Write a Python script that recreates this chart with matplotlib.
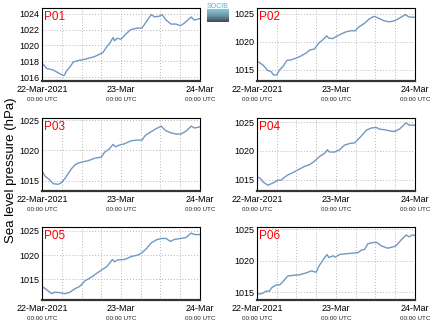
import numpy as np
import pandas as pd
import matplotlib
matplotlib.use("Agg")
import matplotlib.pyplot as plt
import matplotlib.dates as mdates
from matplotlib.colors import LinearSegmentedColormap

plt.rcParams['font.family'] = ['Liberation Sans', 'DejaVu Sans']

# hours after 22-Mar-2021 00:00 UTC, sea level pressure (hPa)
hours_p01 = [0, 1.4, 3.4, 6, 6.7, 7.5, 8.5, 9.5, 11, 13.5, 16, 18.5, 19.6, 20.6, 21.6, 22, 22.8, 24,
             25.6, 27, 29, 30.4, 31.7, 33.2, 34.2, 35.7, 36.5, 37.7, 39.2, 40.7, 42, 43.2, 45.3, 46.3, 48]
p01 = [1017.8, 1017.1, 1016.9, 1016.3, 1016.2, 1016.8, 1017.3, 1017.9, 1018.1, 1018.3, 1018.6, 1019.1,
       1019.8, 1020.3, 1021.0, 1020.6, 1020.9, 1020.8, 1021.5, 1022.0, 1022.2, 1022.2, 1023.0, 1023.9,
       1023.6, 1023.7, 1023.9, 1023.2, 1022.7, 1022.7, 1022.5, 1022.8, 1023.6, 1023.2, 1023.4]

hours_p02 = [0, 1.8, 3.3, 4.3, 5, 6, 6.9, 7.9, 9.1, 10.4, 11.9, 13.4, 14.9, 16.2, 17.4, 18.8, 20.2, 21.2,
             21.8, 23, 24.2, 25.5, 27, 28.5, 29.8, 31, 32.6, 34.1, 35.6, 37.1, 38.6, 40.1, 41.6, 43.1,
             45.2, 46, 48]
p02 = [1016.6, 1015.9, 1014.9, 1014.7, 1014.1, 1014.1, 1015.0, 1015.6, 1016.7, 1016.8, 1017.1, 1017.5,
       1018.0, 1018.6, 1018.7, 1019.8, 1020.5, 1021.1, 1020.7, 1020.6, 1021.0, 1021.4, 1021.8, 1022.0,
       1022.0, 1022.7, 1023.3, 1024.1, 1024.6, 1024.2, 1023.8, 1023.6, 1023.75, 1024.2, 1024.9, 1024.5,
       1024.4]

hours_p03 = [0, 0.9, 2.4, 3.4, 4.9, 6, 7, 8, 9, 10, 11, 12.3, 14, 16, 18, 19, 20.4, 21.6, 22.3, 23.6,
             25.1, 27.1, 28.8, 30.4, 31.4, 33.2, 34.7, 36.2, 37.5, 39.2, 40.7, 42.2, 43.8, 45.3, 46.3, 48]
p03 = [1016.6, 1015.75, 1015.1, 1014.5, 1014.4, 1014.7, 1015.4, 1016.2, 1017.0, 1017.6, 1017.9, 1018.1,
       1018.3, 1018.7, 1018.9, 1019.7, 1020.2, 1021.0, 1020.6, 1020.9, 1021.1, 1021.6, 1021.7, 1021.7,
       1022.5, 1023.1, 1023.6, 1024.0, 1023.3, 1022.9, 1022.7, 1022.7, 1023.2, 1024.0, 1023.7, 1023.9]

hours_p04 = [0, 1, 1.8, 3.3, 4.9, 6.4, 7.4, 8.4, 9.4, 10.9, 12.5, 14.5, 16, 17.5, 19, 20.6, 21.4, 22.1,
             23.6, 25.1, 26.6, 28.2, 29.7, 30.7, 32.2, 33.2, 34.7, 36.2, 37.3, 38.8, 40.3, 41.8, 43.3,
             45.3, 46.2, 48]
p04 = [1015.5, 1015.2, 1014.6, 1014.0, 1014.4, 1014.9, 1014.9, 1015.4, 1015.8, 1016.2, 1016.7, 1017.3,
       1017.6, 1018.2, 1019.0, 1019.6, 1020.2, 1019.8, 1019.8, 1020.2, 1021.0, 1021.3, 1021.4, 1022.0,
       1022.9, 1023.6, 1024.0, 1024.1, 1023.8, 1023.7, 1023.5, 1023.4, 1023.8, 1024.9, 1024.5, 1024.5]

hours_p05 = [0, 1.4, 2.9, 3.9, 5.4, 7, 8.5, 10, 11.5, 13, 15, 16.5, 18, 19.6, 20.6, 21.4, 22, 23, 25.1,
             27.1, 29.1, 30.4, 31.7, 33.2, 34.7, 36.2, 37.7, 39, 40.2, 42.2, 43.8, 45.3, 46.3, 48]
p05 = [1013.6, 1012.9, 1012.1, 1012.4, 1012.3, 1012.1, 1012.4, 1013.1, 1013.6, 1014.7, 1015.5, 1016.2,
       1016.9, 1017.6, 1018.4, 1019.1, 1018.6, 1019.0, 1019.1, 1019.7, 1020.0, 1020.5, 1021.3, 1022.5,
       1023.1, 1023.4, 1023.4, 1022.8, 1023.2, 1023.4, 1023.6, 1024.5, 1024.2, 1024.2]

hours_p06 = [0, 0.8, 1.8, 2.8, 3.8, 4.4, 5.9, 6.9, 7.9, 9.4, 10.9, 13, 15, 16.5, 18, 19, 20.3, 21.3,
             21.9, 23.1, 23.9, 25.1, 26.6, 28.7, 30.7, 31.7, 32.7, 33.7, 35.2, 36.5, 37.7, 39.7, 41.3,
             42.3, 43.8, 45.4, 46.2, 47.2, 48]
p06 = [1015.0, 1014.7, 1014.9, 1015.2, 1015.2, 1015.7, 1016.2, 1016.2, 1016.7, 1017.6, 1017.7, 1017.8,
       1018.1, 1018.4, 1018.2, 1019.3, 1020.3, 1021.0, 1020.5, 1020.8, 1020.6, 1021.0, 1021.1, 1021.2,
       1021.3, 1021.7, 1021.8, 1022.7, 1022.9, 1022.9, 1022.4, 1022.0, 1022.2, 1022.4, 1023.3, 1024.1,
       1023.8, 1024.1, 1024.0]

names = ["P01", "P02", "P03", "P04", "P05", "P06"]
hours = [hours_p01, hours_p02, hours_p03, hours_p04, hours_p05, hours_p06]
values = [p01, p02, p03, p04, p05, p06]
yticks = [[1016, 1018, 1020, 1022, 1024], [1015, 1020, 1025], [1015, 1020, 1025],
          [1015, 1020, 1025], [1015, 1020, 1025], [1015, 1020, 1025]]
ylims = [(1015.5, 1024.75), (1013.0, 1026.1), (1013.3, 1025.4),
         (1013.0, 1025.8), (1010.8, 1025.8), (1013.8, 1025.4)]

start = pd.Timestamp("2021-03-22 00:00")
xticks = [start, start + pd.Timedelta(days=1), start + pd.Timedelta(days=2)]
xticklabels = ["22-Mar-2021", "23-Mar", "24-Mar"]

fig = plt.figure(figsize=(4.34, 3.27), dpi=100)
lefts = [0.0968, 0.592]
bottoms = [0.752, 0.416, 0.0826]

for i, name in enumerate(names):
    ax = fig.add_axes([lefts[i % 2], bottoms[i // 2], 0.364, 0.224])
    t = start + pd.to_timedelta(hours[i], unit="h")
    ax.plot(t, values[i], color="#7098c4", lw=1.0)
    ax.set_xlim(xticks[0], xticks[-1])
    ax.set_ylim(*ylims[i])
    ax.set_yticks(yticks[i])
    ax.set_yticklabels([str(v) for v in yticks[i]], fontsize=6.5)
    ax.set_xticks(xticks)
    ax.set_xticklabels(xticklabels, fontsize=6.5)
    ax.xaxis.set_minor_locator(mdates.HourLocator(byhour=[0, 6, 12, 18]))
    ax.grid(True, which="both", axis="x", ls=(0, (1, 2)), color="#b5b5b5", lw=0.7)
    ax.grid(True, which="major", axis="y", ls=(0, (1, 2)), color="#b5b5b5", lw=0.7)
    ax.tick_params(axis="both", which="both", length=0, pad=2)
    ax.tick_params(axis="x", pad=3)
    for s in ax.spines.values():
        s.set_linewidth(0.8)
    ax.spines["bottom"].set_linewidth(1.6)
    ax.spines["bottom"].set_color("#333333")
    for xt in xticks:
        ax.text(mdates.date2num(xt), -0.215, "00:00 UTC", fontsize=4.5,
                ha="center", va="top", transform=ax.get_xaxis_transform(), color="#222222")
    ax.text(0.015, 0.96, name, color="red", fontsize=8.5, ha="left", va="top",
            transform=ax.transAxes)

fig.text(0.012, 0.48, "Sea level pressure (hPa)", rotation=90, fontsize=9.5,
         ha="left", va="center")

# small logo
logo_cmap = LinearSegmentedColormap.from_list("logo", ["#3f4c55", "#6a98a8", "#8cc4d2"])
lax = fig.add_axes([207 / 434, 1 - 22 / 327, 22 / 434, 13 / 327])
lax.imshow(np.linspace(1, 0, 20).reshape(-1, 1), cmap=logo_cmap, aspect="auto",
           extent=(0, 1, 0, 1))
lax.axis("off")
fig.text(218 / 434, 1 - 3 / 327, "SOCIB", color="#3cb8d8", fontsize=5, ha="center", va="top")

fig.savefig("out.png", dpi=100)
